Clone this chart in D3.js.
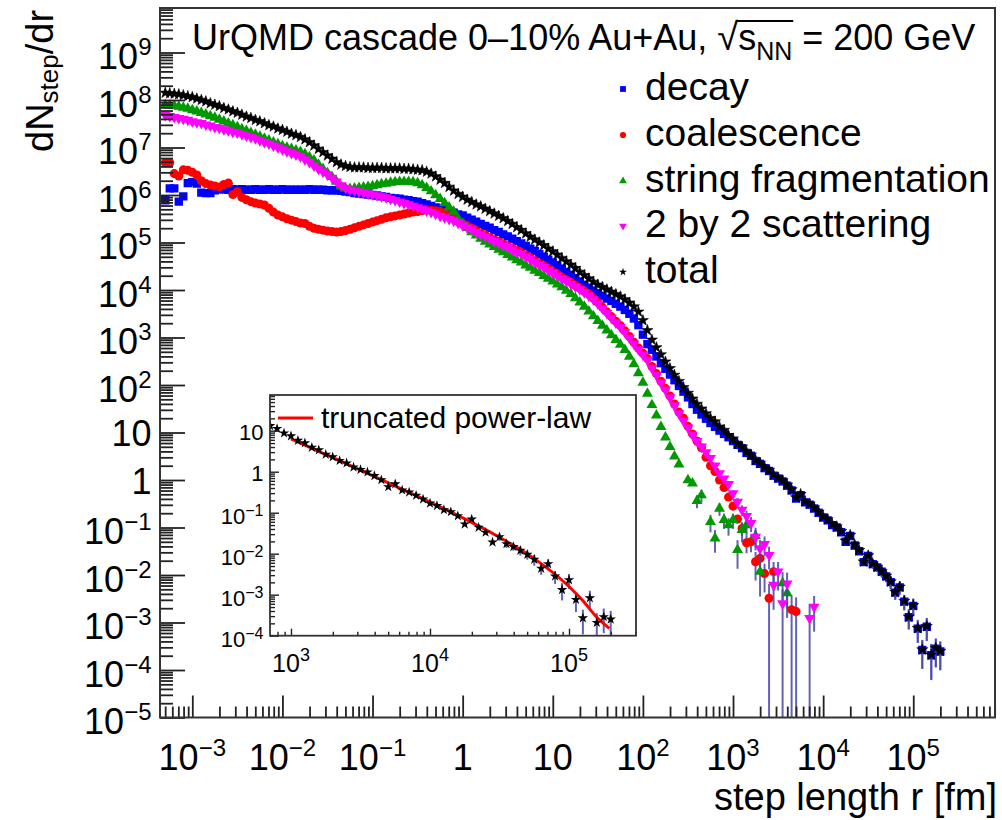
<!DOCTYPE html>
<html>
<head>
<meta charset="utf-8">
<script src="https://cdn.jsdelivr.net/npm/d3@7"></script>
<style>
  body { margin: 0; background: #fff; }
  svg text { font-family: "Liberation Sans", Arial, Helvetica, sans-serif; fill: #000; white-space: pre; }
</style>
</head>
<body>
<svg id="chart" width="1002" height="820"></svg>
<script>
// histogram bins: centres in log10(r [fm]), 20 bins per decade
var binStart = -3.3, binStep = 0.05;

// log10(dN/dr) per bin, null = empty bin
var decay = [
  5.89, 6.14, 6.14, 5.86, 5.97, 6.25, 6.27, 6.24, 6.05, 6.04,
  6.04, 6.10, 6.12, 6.12, 6.11, 6.12, 6.11, 6.12, 6.11, 6.11,
  6.12, 6.11, 6.11, 6.12, 6.11, 6.11, 6.12, 6.11, 6.11, 6.11,
  6.11, 6.11, 6.12, 6.11, 6.11, 6.11, 6.10, 6.10, 6.10, 6.09,
  6.07, 6.06, 6.04, 6.03, 6.02, 6.01, 6.00, 5.99, 5.97, 5.96,
  5.94, 5.93, 5.92, 5.90, 5.89, 5.87, 5.86, 5.83, 5.80, 5.77,
  5.74, 5.71, 5.68, 5.66, 5.63, 5.59, 5.57, 5.52, 5.48, 5.44,
  5.39, 5.35, 5.31, 5.26, 5.22, 5.17, 5.13, 5.08, 5.03, 4.98,
  4.93, 4.87, 4.82, 4.76, 4.70, 4.64, 4.58, 4.52, 4.45, 4.38,
  4.32, 4.25, 4.18, 4.11, 4.05, 3.99, 3.93, 3.88, 3.82, 3.77,
  3.71, 3.65, 3.58, 3.50, 3.40, 3.26, 3.06, 2.86, 2.74, 2.60,
  2.46, 2.34, 2.22, 2.10, 1.98, 1.86, 1.74, 1.60, 1.48, 1.38,
  1.29, 1.20, 1.12, 1.04, 0.97, 0.90, 0.82, 0.74, 0.67, 0.57,
  0.51, 0.40, 0.34, 0.25, 0.19, 0.09, 0.03, -0.03, -0.12, -0.22,
  -0.39, -0.32, -0.47, -0.52, -0.60, -0.69, -0.79, -0.85, -0.95, -1.00,
  -1.10, -1.30, -1.18, -1.38, -1.50, -1.73, -1.60, -1.77, -1.84, -1.93,
  -2.03, -2.15, -2.37, -2.26, -2.56, -2.89, -2.65, -3.13, -3.58, -3.09,
  -3.69, -3.55, -3.61
];

var coalescence = [
  6.68, 6.68, 6.45, 6.40, 6.53, 6.52, 6.48, 6.42, 6.30, 6.24,
  6.21, 6.19, 6.17, 6.22, 6.25, 6.01, 6.07, 5.95, 5.90, 5.86,
  5.83, 5.81, 5.79, 5.72, 5.64, 5.58, 5.54, 5.50, 5.47, 5.44,
  5.41, 5.40, 5.34, 5.30, 5.28, 5.26, 5.24, 5.23, 5.22, 5.23,
  5.25, 5.28, 5.31, 5.34, 5.37, 5.40, 5.43, 5.46, 5.49, 5.52,
  5.54, 5.56, 5.58, 5.60, 5.62, 5.64, 5.65, 5.67, 5.68, 5.68,
  5.67, 5.65, 5.62, 5.58, 5.53, 5.45, 5.40, 5.35, 5.30, 5.25,
  5.20, 5.16, 5.11, 5.06, 5.02, 4.97, 4.93, 4.88, 4.83, 4.79,
  4.73, 4.68, 4.62, 4.56, 4.51, 4.45, 4.39, 4.33, 4.27, 4.22,
  4.16, 4.10, 4.04, 3.98, 3.91, 3.83, 3.74, 3.64, 3.54, 3.44,
  3.34, 3.25, 3.14, 3.02, 2.90, 2.78, 2.67, 2.56, 2.39, 2.24,
  2.08, 1.93, 1.77, 1.60, 1.43, 1.30, 1.13, 0.97, 0.82, 0.68,
  0.48, 0.30, 0.18, 0.00, -0.16, -0.36, -0.55, -0.82, -1.02, -1.32,
  -1.30, -1.72, -1.65, -1.97, -2.49, -1.93, null, null, null, -2.73,
  -2.77
];

var stringFrag = [
  7.90, 7.89, 7.88, 7.86, 7.84, 7.82, 7.79, 7.76, 7.73, 7.70,
  7.66, 7.63, 7.59, 7.55, 7.51, 7.47, 7.43, 7.39, 7.35, 7.31,
  7.27, 7.23, 7.19, 7.15, 7.11, 7.07, 7.03, 7.00, 6.97, 6.94,
  6.91, 6.86, 6.80, 6.73, 6.64, 6.55, 6.46, 6.38, 6.28, 6.18,
  6.14, 6.13, 6.14, 6.15, 6.16, 6.17, 6.19, 6.21, 6.23, 6.24,
  6.26, 6.27, 6.28, 6.28, 6.28, 6.27, 6.25, 6.21, 6.15, 6.08,
  6.00, 5.92, 5.83, 5.74, 5.65, 5.50, 5.40, 5.31, 5.22, 5.15,
  5.08, 5.02, 4.96, 4.91, 4.85, 4.80, 4.74, 4.69, 4.63, 4.58,
  4.52, 4.47, 4.41, 4.36, 4.30, 4.24, 4.18, 4.12, 4.06, 3.99,
  3.92, 3.83, 3.74, 3.65, 3.55, 3.45, 3.35, 3.25, 3.15, 3.05,
  2.95, 2.85, 2.74, 2.60, 2.44, 2.25, 2.05, 1.82, 1.58, 1.36,
  1.12, 0.90, 0.70, 0.50, 0.33, null, 0.00, -0.07, -0.44, -0.32,
  null, -0.88, -1.23, -0.60, -0.84, -0.95, -0.84, -1.47, -1.05, -0.95,
  null, -1.18, -1.93, null, null, null, null, -2.17, -2.38
];

var scattering = [
  7.68, 7.66, 7.64, 7.62, 7.60, 7.58, 7.55, 7.53, 7.51, 7.48,
  7.46, 7.43, 7.41, 7.38, 7.36, 7.33, 7.31, 7.28, 7.25, 7.22,
  7.19, 7.15, 7.11, 7.08, 7.04, 7.00, 6.96, 6.92, 6.88, 6.85,
  6.81, 6.75, 6.69, 6.62, 6.55, 6.49, 6.43, 6.36, 6.28, 6.20,
  6.15, 6.11, 6.09, 6.07, 6.05, 6.03, 6.01, 5.99, 5.97, 5.95,
  5.92, 5.89, 5.86, 5.83, 5.80, 5.77, 5.74, 5.71, 5.67, 5.64,
  5.60, 5.56, 5.53, 5.49, 5.46, 5.41, 5.36, 5.31, 5.27, 5.22,
  5.17, 5.13, 5.08, 5.03, 4.99, 4.94, 4.90, 4.85, 4.80, 4.76,
  4.70, 4.65, 4.59, 4.53, 4.48, 4.42, 4.36, 4.30, 4.24, 4.19,
  4.13, 4.07, 4.01, 3.95, 3.88, 3.80, 3.71, 3.61, 3.51, 3.41,
  3.31, 3.22, 3.11, 2.99, 2.87, 2.75, 2.64, 2.53, 2.36, 2.21,
  2.05, 1.90, 1.74, 1.57, 1.40, 1.25, 1.10, 0.95, 0.82, 0.70,
  0.58, 0.46, 0.30, 0.14, 0.03, -0.09, -0.28, -0.46, -0.63, -0.76,
  -0.91, -1.20, -1.44, -1.35, -1.58, -2.21, -1.93, -2.60, -2.18, null,
  null, null, null, -2.91, -2.67
];

var total = [
  8.15, 8.14, 8.13, 8.12, 8.10, 8.08, 8.06, 8.03, 8.00, 7.97,
  7.93, 7.90, 7.87, 7.83, 7.80, 7.76, 7.73, 7.69, 7.65, 7.62,
  7.58, 7.55, 7.51, 7.47, 7.44, 7.40, 7.37, 7.33, 7.29, 7.26,
  7.22, 7.17, 7.11, 7.04, 6.97, 6.90, 6.83, 6.76, 6.69, 6.64,
  6.61, 6.59, 6.58, 6.58, 6.58, 6.57, 6.57, 6.57, 6.57, 6.56,
  6.56, 6.56, 6.56, 6.55, 6.55, 6.54, 6.53, 6.52, 6.49, 6.45,
  6.39, 6.32, 6.25, 6.17, 6.09, 6.02, 5.96, 5.90, 5.85, 5.80,
  5.76, 5.71, 5.66, 5.61, 5.56, 5.51, 5.45, 5.39, 5.32, 5.26,
  5.19, 5.12, 5.06, 5.00, 4.94, 4.87, 4.81, 4.74, 4.67, 4.60,
  4.53, 4.46, 4.38, 4.31, 4.24, 4.17, 4.11, 4.06, 4.01, 3.96,
  3.91, 3.86, 3.80, 3.73, 3.65, 3.54, 3.36, 3.15, 2.95, 2.79,
  2.64, 2.49, 2.35, 2.21, 2.08, 1.95, 1.83, 1.71, 1.60, 1.50,
  1.40, 1.30, 1.23, 1.12, 1.05, 0.94, 0.87, 0.76, 0.70, 0.59,
  0.53, 0.42, 0.36, 0.27, 0.21, 0.11, 0.05, -0.01, -0.10, -0.20,
  -0.37, -0.30, -0.45, -0.50, -0.58, -0.67, -0.77, -0.83, -0.93, -0.98,
  -1.08, -1.28, -1.16, -1.36, -1.48, -1.72, -1.59, -1.76, -1.83, -1.92,
  -2.02, -2.14, -2.36, -2.25, -2.55, -2.88, -2.64, -3.12, -3.57, -3.08,
  -3.68, -3.54, -3.60
];

// relative statistical errors [log10 r, sigma/N] where bars are visible
var tailErr = [[4.5,0.2],[4.55,0.2],[4.6,0.2],[4.65,0.25],[4.7,0.25],[4.75,0.3],[4.8,0.3],[4.85,0.3],
  [4.9,0.35],[4.95,0.45],[5.0,0.4],[5.05,0.5],[5.1,0.6],[5.15,0.5],[5.2,0.7],[5.25,0.6],[5.3,0.6]];
var coalErr = [[3.0,0.15],[3.05,0.2],[3.1,0.3],[3.15,0.4],[3.2,0.4],[3.25,0.6],[3.3,0.5],[3.35,0.6],
  [3.4,1.0],[3.45,0.6],[3.65,1.0],[3.7,1.0]];
var stringErr = [[2.6,0.3],[2.65,0.3],[2.75,0.4],[2.8,0.5],[2.85,0.3],[2.9,0.35],[2.95,0.4],[3.0,0.35],
  [3.05,0.6],[3.1,0.45],[3.15,0.4],[3.25,0.5],[3.3,0.7],[3.55,0.7],[3.6,0.7]];
var scatErr = [[3.0,0.15],[3.05,0.2],[3.1,0.25],[3.15,0.3],[3.2,0.35],[3.25,0.4],[3.3,0.5],[3.35,0.45],
  [3.4,0.5],[3.45,0.7],[3.5,0.6],[3.55,1.0],[3.6,0.7],[3.85,1.0],[3.9,0.7]];

// truncated power-law fit drawn in the inset: log10 r, log10 dN/dr
var fitLogR = [3.0, 3.25, 3.5, 3.75, 4.0, 4.25, 4.5, 4.75, 5.0, 5.1, 5.2, 5.29];
var fitLogN = [0.80, 0.42, 0.04, -0.35, -0.74, -1.15, -1.60, -2.12, -2.80, -3.15, -3.55, -3.82];

var legendNames = ["decay", "coalescence", "string fragmentation", "2 by 2 scattering", "total"];
var xExps = [-3, -2, -1, 0, 1, 2, 3, 4, 5];
var yExps = [-5, -4, -3, -2, -1, 0, 1, 2, 3, 4, 5, 6, 7, 8, 9];
var insetXExps = [3, 4, 5];
var insetYExps = [-4, -3, -2, -1, 0, 1];

var svg = d3.select("#chart");
svg.append("rect").attr("width", 1002).attr("height", 820).attr("fill", "#fff");

var x = d3.scaleLog().domain([Math.pow(10, -3.3585), Math.pow(10, 5.907)]).range([160, 995]);
var y = d3.scaleLog().domain([1e-5, Math.pow(10, 9.937)]).range([717.5, 8]);

var errColor = "#4848a8";

function points(vals) {
  var out = [];
  vals.forEach(function(v, i) {
    if (v !== null) out.push({ r: Math.pow(10, binStart + binStep * i), n: Math.pow(10, v) });
  });
  return out;
}

function drawErrors(g, vals, errs, xs, ys, rMin) {
  errs.forEach(function(e) {
    var i = Math.round((e[0] - binStart) / binStep);
    var v = vals[i];
    if (v === null || v === undefined) return;
    var r = Math.pow(10, binStart + binStep * i);
    if (rMin && r < rMin) return;
    var n = Math.pow(10, v);
    var lo = n * (1 - e[1]), hi = n * (1 + e[1]);
    var yb = ys.range()[0];
    var y2 = lo > 0 ? Math.min(ys(lo), yb) : yb;
    g.append("line")
      .attr("x1", xs(r)).attr("x2", xs(r))
      .attr("y1", ys(hi)).attr("y2", y2)
      .attr("stroke", errColor).attr("stroke-width", 2).attr("opacity", 0.85);
  });
}

var styles = [
  { vals: decay, type: d3.symbolSquare, size: 70, color: "#0000ff", rot: 0, lsize: 34 },
  { vals: coalescence, type: d3.symbolCircle, size: 64, color: "#ff0000", rot: 0, lsize: 30 },
  { vals: stringFrag, type: d3.symbolTriangle, size: 52, color: "#009900", rot: 0, lsize: 26 },
  { vals: scattering, type: d3.symbolTriangle, size: 52, color: "#ff00ff", rot: 180, lsize: 26 },
  { vals: total, type: d3.symbolStar, size: 38, color: "#000000", rot: 0, lsize: 20 }
];
var errLists = [tailErr, coalErr, stringErr, scatErr, tailErr];

// ---- main plot ----
svg.append("clipPath").attr("id", "mainclip").append("rect")
  .attr("x", 160).attr("y", 8).attr("width", 835).attr("height", 709.5);
var plot = svg.append("g").attr("clip-path", "url(#mainclip)");

styles.forEach(function(s, k) {
  drawErrors(plot, s.vals, errLists[k], x, y);
  plot.append("g").selectAll("path").data(points(s.vals)).enter().append("path")
    .attr("d", d3.symbol().type(s.type).size(s.size))
    .attr("transform", function(d) { return "translate(" + x(d.r) + "," + y(d.n) + ") rotate(" + s.rot + ")"; })
    .attr("fill", s.color)
    .attr("stroke", s.color === "#000000" ? "#000" : "none")
    .attr("stroke-width", 0.6);
});

// ticks
function decadeTicks(lo, hi, dom) {
  var major = [], minor = [];
  for (var e = lo; e <= hi; e++) {
    var p = Math.pow(10, e);
    if (p >= dom[0] && p <= dom[1]) major.push(p);
    for (var k = 2; k <= 9; k++) {
      var m = k * p;
      if (m >= dom[0] && m <= dom[1]) minor.push(m);
    }
  }
  return { major: major, minor: minor };
}

function tickAxis(g, axisFn, scale, vals, len, width) {
  g.call(axisFn(scale).tickValues(vals).tickSizeInner(-len).tickSizeOuter(0).tickFormat(""));
  g.select(".domain").remove();
  g.selectAll(".tick line").attr("stroke", "#222").attr("stroke-width", width);
}

var xt = decadeTicks(-4, 5, x.domain());
var yt = decadeTicks(-5, 9, y.domain());
tickAxis(svg.append("g").attr("transform", "translate(0,717.5)"), d3.axisBottom, x, xt.major, 22, 1.8);
tickAxis(svg.append("g").attr("transform", "translate(0,717.5)"), d3.axisBottom, x, xt.minor, 11, 1.8);
tickAxis(svg.append("g").attr("transform", "translate(160,0)"), d3.axisLeft, y, yt.major, 25, 1.8);
tickAxis(svg.append("g").attr("transform", "translate(160,0)"), d3.axisLeft, y, yt.minor, 13, 1.8);

svg.append("rect").attr("x", 160).attr("y", 8).attr("width", 835).attr("height", 709.5)
  .attr("fill", "none").attr("stroke", "#333").attr("stroke-width", 2);

function powLabel(g, e, px, py, anchor, size, supSize, rise) {
  var t = g.append("text").attr("x", px).attr("y", py).attr("text-anchor", anchor).style("font-size", size + "px");
  if (e === 0) t.text("1");
  else if (e === 1) t.text("10");
  else {
    t.append("tspan").text("10");
    t.append("tspan").attr("dy", -rise).style("font-size", supSize + "px").text(e < 0 ? "\u2212" + (-e) : String(e));
  }
  return t;
}

yExps.forEach(function(e) {
  var plain = (e === 0 || e === 1);
  powLabel(svg, e, 151.5, y(Math.pow(10, e)) + (plain ? 13.5 : 16.6), "end", 36, 24, 14);
});
xExps.forEach(function(e) {
  powLabel(svg, e, x(Math.pow(10, e)), 770, "middle", 36, 24, 14);
});

// axis titles
var yt1 = svg.append("text").attr("transform", "translate(53,152) rotate(-90)").style("font-size", "38px");
yt1.append("tspan").text("dN");
yt1.append("tspan").attr("dy", 5).style("font-size", "26px").text("step");
yt1.append("tspan").attr("dy", -5).text("/dr");

svg.append("text").attr("x", 997).attr("y", 810).attr("text-anchor", "end")
  .style("font-size", "38px").text("step length r [fm]");

// header
var tx = 192, tb = 50;
function put(str, size, dy) {
  var t = svg.append("text").attr("x", tx).attr("y", tb + dy).style("font-size", size + "px").text(str);
  var x0 = tx;
  tx += t.node().getComputedTextLength();
  return [x0, tx];
}
put("UrQMD cascade 0\u201310% Au+Au, ", 36, 0);
var rad = put("\u221A", 38, 0);
put("s", 36, 0);
var nn = put("NN", 25, 10);
put(" = 200 GeV", 36, 0);
svg.append("line").attr("x1", rad[1] - 1.5).attr("x2", nn[1] + 1)
  .attr("y1", 21).attr("y2", 21).attr("stroke", "#000").attr("stroke-width", 2);

// legend
var legY = [89, 135, 181, 226, 272];
styles.forEach(function(s, k) {
  svg.append("path").attr("d", d3.symbol().type(s.type).size(s.lsize))
    .attr("transform", "translate(623," + legY[k] + ") rotate(" + s.rot + ")")
    .attr("fill", s.color);
  svg.append("text").attr("x", 645).attr("y", legY[k] + 11).style("font-size", "39px").text(legendNames[k]);
});

// ---- inset ----
var xi = d3.scaleLog().domain([Math.pow(10, 2.849), Math.pow(10, 5.482)]).range([270, 636]);
var yi = d3.scaleLog().domain([1e-4, Math.pow(10, 1.871)]).range([635.7, 395]);

svg.append("rect").attr("x", 270).attr("y", 395).attr("width", 366).attr("height", 240.7).attr("fill", "#fff");
svg.append("clipPath").attr("id", "insetclip").append("rect")
  .attr("x", 270).attr("y", 395).attr("width", 366).attr("height", 240.7);
var inset = svg.append("g").attr("clip-path", "url(#insetclip)");

var rMin = Math.pow(10, 2.84);
drawErrors(inset, total, tailErr, xi, yi, rMin);
inset.append("path")
  .datum(fitLogR.map(function(r, i) { return { r: Math.pow(10, r), n: Math.pow(10, fitLogN[i]) }; }))
  .attr("d", d3.line().x(function(d) { return xi(d.r); }).y(function(d) { return yi(d.n); }).curve(d3.curveMonotoneX))
  .attr("fill", "none").attr("stroke", "#ff0000").attr("stroke-width", 3);
inset.append("g").selectAll("path").data(points(total).filter(function(d) { return d.r >= rMin; })).enter().append("path")
  .attr("d", d3.symbol().type(d3.symbolStar).size(34))
  .attr("transform", function(d) { return "translate(" + xi(d.r) + "," + yi(d.n) + ")"; })
  .attr("fill", "#000");

var xit = decadeTicks(2, 5, xi.domain());
var yit = decadeTicks(-4, 1, yi.domain());
tickAxis(svg.append("g").attr("transform", "translate(0,635.7)"), d3.axisBottom, xi, xit.major, 7, 1.4);
tickAxis(svg.append("g").attr("transform", "translate(0,635.7)"), d3.axisBottom, xi, xit.minor, 4, 1.4);
tickAxis(svg.append("g").attr("transform", "translate(270,0)"), d3.axisLeft, yi, yit.major, 9, 1.4);
tickAxis(svg.append("g").attr("transform", "translate(270,0)"), d3.axisLeft, yi, yit.minor, 5, 1.4);

svg.append("rect").attr("x", 270).attr("y", 395).attr("width", 366).attr("height", 240.7)
  .attr("fill", "none").attr("stroke", "#333").attr("stroke-width", 1.8);

insetYExps.forEach(function(e) {
  var plain = (e === 0 || e === 1);
  powLabel(svg, e, 263.5, yi(Math.pow(10, e)) + (plain ? 9 : 11), "end", 22, 16, 8);
});
insetXExps.forEach(function(e) {
  powLabel(svg, e, xi(Math.pow(10, e)), 672, "middle", 25, 18, 11);
});

svg.append("line").attr("x1", 278).attr("x2", 313).attr("y1", 418).attr("y2", 418)
  .attr("stroke", "#ff0000").attr("stroke-width", 3);
svg.append("text").attr("x", 321).attr("y", 428).style("font-size", "30px").text("truncated power-law");
</script>
</body>
</html>
